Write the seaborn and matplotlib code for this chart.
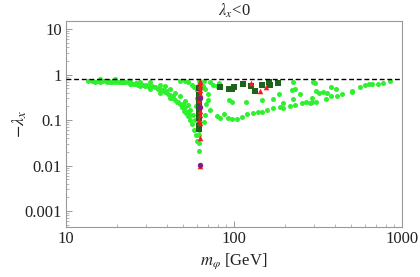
import numpy as np
import pandas as pd
import matplotlib
matplotlib.use("Agg")
import matplotlib.pyplot as plt
import seaborn as sns
from matplotlib.ticker import FixedLocator, NullFormatter

# ---- data (m_phi in GeV, -lambda_x) ----
green_m = [13.5, 14.3, 14.9, 15.5, 15.9, 16.6, 17.5, 18.0, 18.3, 18.8, 19.6, 20.5, 21.0, 21.6,
           22.4, 23.3, 24.0, 25.0, 25.7, 26.8, 27.6, 28.7, 29.5, 30.7, 31.6, 32.5, 33.9, 35.3,
           36.3, 37.8, 38.8, 40.4, 41.6, 42.8, 44.5, 45.8, 47.7, 49.0, 50.4, 51.8, 53.2, 54.7,
           56.2, 57.8, 59.4, 60.2,
           15.9, 19.6, 24.0, 27.6, 31.6, 36.3, 38.8, 41.6, 44.5, 47.7, 51.1, 53.2, 54.7, 57.0, 58.6,
           27.6, 31.6, 36.3, 41.6, 46.5, 51.1, 54.7,
           22.0, 26.0, 30.0, 34.0, 39.5, 43.5, 49.5, 52.5,
           48.0, 51.0, 53.0, 56.0, 58.0, 60.0, 60.5, 59.5,
           62.0, 62.0, 62.5, 61.5, 62.0, 61.8, 62.3, 62.0, 61.5, 62.2, 62.0, 62.0, 62.0, 62.3, 62.3,
           67.2, 70.0, 72.0, 67.2, 75.0, 70.0, 66.0, 72.0, 68.0, 66.0, 65.0, 79.0, 83.0, 81.0, 94.0,
           79.0, 83.0, 87.0, 92.0, 97.0, 104.0, 112.0, 120.0, 130.0, 139.0, 147.0, 157.0, 171.0,
           188.0, 196.0, 215.0, 231.0, 254.0, 268.0, 283.0, 308.0, 290.0, 353.0, 378.0, 410.0,
           440.0, 504.0, 504.0, 603.0, 637.0, 720.0, 771.0, 849.0, 665.0, 560.0,
           97.0, 147.0, 171.0, 186.0, 196.0, 222.0, 231.0, 247.0, 225.0, 295.0, 225.0, 304.0,
           308.0, 339.0, 358.0, 378.0, 405.0, 118.0, 290.0, 320.0]
green_l = [0.74, 0.74, 0.70, 0.74, 0.70, 0.74, 0.70, 0.74, 0.70, 0.70, 0.70, 0.67, 0.70, 0.67,
           0.67, 0.67, 0.63, 0.63, 0.63, 0.60, 0.60, 0.60, 0.57, 0.57, 0.55, 0.55, 0.52, 0.49,
           0.47, 0.45, 0.42, 0.38, 0.35, 0.31, 0.28, 0.255, 0.22, 0.19, 0.16, 0.14, 0.12, 0.10,
           0.08, 0.062, 0.048, 0.035,
           0.78, 0.78, 0.74, 0.70, 0.67, 0.60, 0.55, 0.47, 0.40, 0.33, 0.26, 0.21, 0.17, 0.13, 0.10,
           0.55, 0.49, 0.40, 0.30, 0.25, 0.19, 0.13,
           0.69, 0.64, 0.58, 0.52, 0.43, 0.34, 0.22, 0.15,
           0.74, 0.74, 0.70, 0.60, 0.52, 0.45, 0.30, 0.20,
           0.74, 0.60, 0.50, 0.40, 0.30, 0.25, 0.20, 0.15, 0.12, 0.09, 0.07, 0.06, 0.048, 0.032, 0.021,
           0.47, 0.28, 0.17, 0.13, 0.60, 0.37, 0.74, 0.70, 0.22, 0.09, 0.55, 0.55, 0.57, 0.667, 0.28,
           0.125, 0.113, 0.139, 0.113, 0.103, 0.108, 0.119, 0.139, 0.146, 0.154, 0.154, 0.17, 0.188,
           0.198, 0.188, 0.208, 0.219, 0.243, 0.255, 0.243, 0.255, 0.255, 0.297, 0.345, 0.345,
           0.382, 0.445, 0.42, 0.603, 0.634, 0.634, 0.667, 0.738, 0.63, 0.545,
           0.255, 0.282, 0.297, 0.382, 0.243, 0.468, 0.492, 0.382, 0.297, 0.70, 0.70, 0.667,
           0.445, 0.423, 0.402, 0.545, 0.492, 0.255, 0.30, 0.40]

dkgreen_m = [61.8, 62.0, 62.2, 61.8, 62.0, 62.2, 61.9, 62.0, 62.0,
             83.0, 93.0, 97.0, 100.0, 113.0, 126.0, 133.0, 147.0, 164.0, 183.0, 161.0]
dkgreen_l = [0.50, 0.36, 0.28, 0.22, 0.17, 0.14, 0.11, 0.075, 0.064,
             0.545, 0.49, 0.49, 0.52, 0.634, 0.573, 0.445, 0.603, 0.603, 0.667, 0.70]

red_m = [62.5, 63.0, 62.8, 63.0, 62.5, 62.8, 62.3, 62.5, 62.8, 62.5, 62.3, 62.5, 62.8, 62.5,
         126.0, 143.0, 155.0]
red_l = [0.74, 0.67, 0.60, 0.52, 0.45, 0.38, 0.28, 0.20, 0.16, 0.13, 0.10, 0.085, 0.041, 0.0098,
         0.667, 0.445, 0.545]

purple_m = [62.5, 62.5, 62.4]
purple_l = [0.30, 0.19, 0.0105]

limit_value = 0.78
x_ticks = [10, 100, 1000]
x_tick_labels = ["10", "100", "1000"]
y_ticks = [10, 1, 0.1, 0.01, 0.001]
y_tick_labels = ["10", "1", "0.1", "0.01", "0.001"]

# ---- build table ----
groups = [("green", green_m, green_l), ("dkgreen", dkgreen_m, dkgreen_l),
          ("red", red_m, red_l), ("purple", purple_m, purple_l)]
df = pd.concat([pd.DataFrame({"m": m, "l": l, "cat": c}) for c, m, l in groups],
               ignore_index=True)

sns.set_theme(style="ticks")
plt.rcParams["font.family"] = ["Liberation Serif", "DejaVu Serif"]
plt.rcParams["mathtext.fontset"] = "stix"

fig = plt.figure(figsize=(4.2, 2.77), dpi=100)
ax = fig.add_axes([0.157, 0.181, 0.800, 0.743])

palette = {"green": "#2ff02f", "dkgreen": "#1c641c", "red": "#f41c1c", "purple": "#7a1e86"}
markers = {"green": "o", "dkgreen": "s", "red": "^", "purple": "o"}
sizes = {"green": 13, "dkgreen": 14, "red": 16, "purple": 15}

for c, _, _ in groups:
    sub = df[df["cat"] == c]
    sns.scatterplot(data=sub, x="m", y="l", color=palette[c], marker=markers[c],
                    s=sizes[c], linewidth=0, ax=ax, legend=False, zorder=3)

ax.axhline(limit_value, color="black", linestyle=(0, (3.5, 2)), linewidth=1.0, zorder=4)

ax.set_xscale("log")
ax.set_yscale("log")
ax.set_xlim(10, 1000)
ax.set_ylim(4.5e-4, 15)

ax.xaxis.set_major_locator(FixedLocator(x_ticks))
ax.set_xticklabels(x_tick_labels)
ax.yaxis.set_major_locator(FixedLocator(y_ticks))
ax.set_yticklabels(y_tick_labels)
xminor = [k * 10 ** e for e in (1, 2) for k in range(2, 10)]
yminor = [k * 10.0 ** e for e in (-4, -3, -2, -1, 0, 1) for k in range(2, 10)]
ax.xaxis.set_minor_locator(FixedLocator(xminor))
ax.yaxis.set_minor_locator(FixedLocator(yminor))
ax.xaxis.set_minor_formatter(NullFormatter())
ax.yaxis.set_minor_formatter(NullFormatter())

ax.tick_params(which="major", direction="in", length=4, width=0.7, color="#999999",
               labelsize=12, pad=3, labelcolor="#222222")
ax.tick_params(which="minor", direction="in", length=2, width=0.5, color="#999999")
for sp in ax.spines.values():
    sp.set_color("#999999")
    sp.set_linewidth(0.8)

ax.set_xlabel(r"$m_{\varphi}$ [GeV]", fontsize=12, labelpad=3, color="#222222")
ax.set_ylabel(r"$-\lambda_x$", fontsize=13, color="#222222")
ax.yaxis.set_label_coords(-0.11, 0.5)
ax.set_title(r"$\lambda_x$<0", fontsize=12, pad=4, color="#222222")

fig.savefig("out.png", dpi=100)
